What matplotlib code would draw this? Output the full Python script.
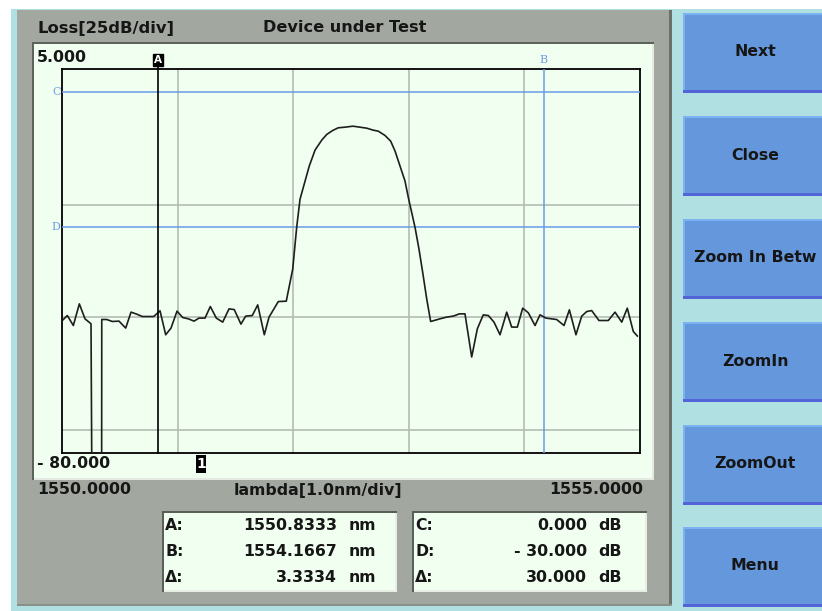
import matplotlib.pyplot as plt
import matplotlib.transforms as mtransforms
from matplotlib.patches import Rectangle

# measured trace: wavelength (nm) and loss (dB)
wavelength = [1550.003, 1550.046, 1550.098, 1550.150, 1550.199, 1550.251, 1550.257,
              1550.343, 1550.344, 1550.387, 1550.435, 1550.493, 1550.551, 1550.597,
              1550.646, 1550.695, 1550.793, 1550.848, 1550.897, 1550.943, 1550.995,
              1551.044, 1551.093, 1551.142, 1551.185, 1551.237, 1551.283, 1551.335,
              1551.390, 1551.445, 1551.490, 1551.548, 1551.589, 1551.646, 1551.693,
              1551.750, 1551.791, 1551.871, 1551.940, 1551.996, 1552.030, 1552.059,
              1552.087, 1552.139, 1552.189, 1552.247, 1552.290, 1552.342, 1552.390,
              1552.448, 1552.515, 1552.555, 1552.636, 1552.693, 1552.736, 1552.794,
              1552.843, 1552.881, 1552.924, 1552.967, 1552.996, 1553.025, 1553.054,
              1553.088, 1553.120, 1553.155, 1553.189, 1553.270, 1553.328, 1553.385,
              1553.437, 1553.486, 1553.544, 1553.593, 1553.644, 1553.688, 1553.737,
              1553.789, 1553.847, 1553.890, 1553.939, 1553.985, 1554.034, 1554.092,
              1554.135, 1554.187, 1554.279, 1554.343, 1554.389, 1554.446, 1554.496,
              1554.539, 1554.582, 1554.645, 1554.726, 1554.784, 1554.842, 1554.890,
              1554.942, 1554.977]
loss_db = [-50.67, -49.57, -51.78, -46.99, -50.30, -51.40, -80.0,
           -80.0, -50.45, -50.45, -50.89, -50.81, -52.35, -48.82,
           -49.26, -49.79, -49.79, -48.53, -53.83, -52.35, -48.60,
           -50.01, -50.30, -50.81, -50.14, -50.14, -47.58, -50.14,
           -51.03, -48.09, -48.25, -51.47, -49.70, -49.57, -47.21,
           -53.83, -49.92, -46.48, -46.39, -39.27, -30.07, -23.83,
           -21.24, -16.48, -12.95, -10.74, -9.49, -8.60, -8.01,
           -7.88, -7.66, -7.79, -8.10, -8.54, -8.76, -9.71,
           -10.96, -13.17, -16.48, -19.79, -23.45, -26.76, -30.07,
           -34.86, -40.00, -45.89, -50.89, -50.30, -49.92, -49.70,
           -49.20, -49.20, -58.75, -52.50, -49.42, -49.57, -51.03,
           -53.83, -48.82, -52.13, -52.13, -47.94, -48.97, -51.78,
           -49.42, -50.14, -50.45, -51.78, -48.31, -53.83, -49.70,
           -48.69, -48.47, -50.67, -50.67, -48.82, -51.03, -47.94,
           -53.10, -54.11]

x_span = [1550.0, 1555.0]
y_span = [5.0, -80.0]
x_grid = [1551, 1552, 1553, 1554]
y_grid = [-25, -50, -75]

marker_a = 1550.8333
marker_b = 1554.1667
marker_c = 0.0
marker_d = -30.0

buttons = ['Next', 'Close', 'Zoom In Betw', 'ZoomIn', 'ZoomOut', 'Menu']

CYAN = '#B0E0E2'
GRAY = '#A2A79F'
PANEL = '#F0FFF0'
BLUE = '#6A9BE6'
INK = '#161616'
FONT = 'DejaVu Sans'

W, H = 822, 611
fig = plt.figure(figsize=(W / 100, H / 100), dpi=100, facecolor='white')

# screen chrome drawn in pixel coordinates
bg = fig.add_axes([0, 0, 1, 1])
bg.set_xlim(0, W)
bg.set_ylim(H, 0)
bg.axis('off')


def rect(x0, y0, x1, y1, color, z=1):
    bg.add_patch(Rectangle((x0, y0), x1 - x0, y1 - y0, facecolor=color,
                           edgecolor='none', zorder=z))


def label(x, y, s, ha='left', size=11.3, color=INK, **kw):
    bg.text(x, y, s, ha=ha, va='center', fontsize=size, color=color,
            family=FONT, fontweight='bold', zorder=10, **kw)


rect(11, 9, W, H, CYAN)
rect(17, 10, 672, 606, GRAY, 2)
rect(669, 10, 672, 606, '#6C706A', 3)
rect(17, 604, 672, 606, '#8A8F88', 3)

# inner plotting panel with a sunken edge
rect(32, 42, 654, 480, '#5E625C', 3)
rect(34, 44, 654, 480, '#E4EAE2', 3)
rect(34, 44, 652, 478, PANEL, 3)

label(37, 28, 'Loss[25dB/div]', size=11.8)
label(345, 28, 'Device under Test', ha='center', size=11.6)
label(37, 57, '%.3f' % y_span[0])
label(37, 464, '- %.3f' % abs(y_span[1]))
label(37, 490, '%.4f' % x_span[0])
label(318, 490, 'lambda[1.0nm/div]', ha='center')
label(643, 490, '%.4f' % x_span[1], ha='right')

# trace marker flag
rect(196, 455, 206, 473, 'black', 9)
label(201, 464, '1', ha='center', color='white', size=10)


def readout(x0, x1, rows, val_x, unit_x):
    rect(x0, 511, x1, 592, '#5A5E58', 3)
    rect(x0 + 2, 513, x1, 592, '#E8EEE6', 3)
    rect(x0 + 2, 513, x1 - 2, 590, PANEL, 3)
    for (name, value, unit), y in zip(rows, [525, 552, 578]):
        label(x0 + 3, y, name)
        label(val_x, y, value, ha='right')
        label(unit_x, y, unit)


def signed(v):
    return ('- %.3f' % abs(v)) if v < 0 else '%.3f' % v


readout(162, 397, [('A:', '%.4f' % marker_a, 'nm'),
                   ('B:', '%.4f' % marker_b, 'nm'),
                   ('Δ:', '%.4f' % (marker_b - marker_a), 'nm')], 337, 349)
readout(412, 647, [('C:', signed(marker_c), 'dB'),
                   ('D:', signed(marker_d), 'dB'),
                   ('Δ:', signed(abs(marker_c - marker_d)), 'dB')], 587, 598)

# soft keys on the right
button_tops = [13, 116, 219, 322, 425, 527]
for name, top in zip(buttons, button_tops):
    bottom = top + 80
    rect(683, top, W, bottom, '#5264D6', 4)
    rect(683, top, W, bottom - 3, '#7AB2F2', 4)
    rect(685, top + 2, W, bottom - 3, '#6497DC', 4)
    label(755, (top + bottom) / 2 - 1, name, ha='center')

# the spectrum itself
ax = fig.add_axes([62 / W, (H - 453) / H, 578 / W, 384 / H], zorder=5)
ax.set_facecolor('none')
ax.set_xlim(x_span)
ax.set_ylim(y_span[1], y_span[0])
for x in x_grid:
    ax.axvline(x, color='#B4BCB2', lw=1.2, zorder=1)
for y in y_grid:
    ax.axhline(y, color='#B4BCB2', lw=1.2, zorder=1)
ax.plot(wavelength, loss_db, color='#1E1E1E', lw=1.2, zorder=4)

ax.axhline(marker_c, color=BLUE, lw=1.1, zorder=3)
ax.axhline(marker_d, color=BLUE, lw=1.1, zorder=3)
ax.axvline(marker_b, color=BLUE, lw=1.1, zorder=3)
ax.plot([marker_a, marker_a], [y_span[1], y_span[0] + 1.2], color='black',
        lw=1.2, clip_on=False, zorder=5)

top_lab = mtransforms.blended_transform_factory(ax.transData, ax.transAxes)
left_lab = mtransforms.blended_transform_factory(ax.transAxes, ax.transData)
ax.text(marker_a, 1.023, 'A', transform=top_lab, ha='center', va='center',
        color='white', fontsize=7.5, family=FONT, fontweight='bold', clip_on=False,
        bbox=dict(boxstyle='square,pad=0.1', fc='black', ec='black'))
ax.text(marker_b, 1.023, 'B', transform=top_lab, ha='center', va='center',
        color=BLUE, fontsize=8, family='DejaVu Serif', clip_on=False)
ax.text(-0.01, marker_c, 'C', transform=left_lab, ha='center', va='center',
        color=BLUE, fontsize=8, family='DejaVu Serif', clip_on=False)
ax.text(-0.01, marker_d, 'D', transform=left_lab, ha='center', va='center',
        color=BLUE, fontsize=8, family='DejaVu Serif', clip_on=False)

for side in ax.spines.values():
    side.set_color('black')
    side.set_linewidth(1.3)
ax.set_xticks([])
ax.set_yticks([])

fig.savefig('out.png', dpi=100, facecolor='white')
